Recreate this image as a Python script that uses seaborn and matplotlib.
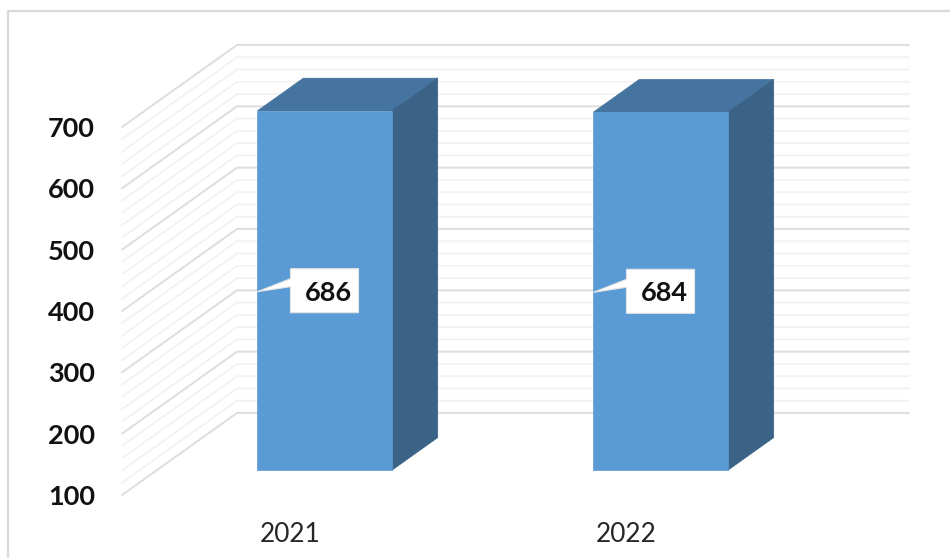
import matplotlib
matplotlib.use("Agg")
import matplotlib.pyplot as plt
import numpy as np
import pandas as pd
import seaborn as sns
from matplotlib.lines import Line2D
from matplotlib.patches import Polygon
from matplotlib.transforms import Affine2D, IdentityTransform

years = ["2021", "2022"]
values = [686, 684]
y_ticks = [100, 200, 300, 400, 500, 600, 700]
y_minor = [120, 140, 160, 180, 220, 240, 260, 280, 320, 340, 360, 380,
           420, 440, 460, 480, 520, 540, 560, 580, 620, 640, 660, 680]

sns.set_theme(style="white")
plt.rcParams["font.family"] = ["Lato", "DejaVu Sans"]

W, H = 950, 558
fig = plt.figure(figsize=(W / 100, H / 100), dpi=100)
# front plane of the fake 3d box, in pixels of the reference
ax = fig.add_axes([122 / W, (H - 495) / H, 672 / W, 368 / H])

df = pd.DataFrame({"year": years, "value": values})
sns.barplot(data=df, x="year", y="value", ax=ax, color="#5B9BD5", width=0.4,
            saturation=1, zorder=3)
ax.set_xlim(-0.5, 1.5)
ax.set_ylim(y_ticks[0], y_ticks[-1])
ax.set_xlabel("")
ax.set_ylabel("")
ax.set_yticks(y_ticks)
ax.tick_params(axis="both", length=0)
ax.tick_params(axis="y", pad=19.5, labelsize=19.5, labelcolor="#111111")
ax.tick_params(axis="x", pad=19.5, labelsize=18.8, labelcolor="#262626")
for lab in ax.get_yticklabels():
    lab.set_fontweight("bold")
sns.despine(ax=ax, left=True, bottom=True)
ax.patch.set_alpha(0)

# depth direction in pixels, 0 = front plane, 1 = back wall
DEPTH = np.array([115, 82])
BAR_FRONT, BAR_BACK = 0.3, 0.7


def px(x, y, depth=0):
    return ax.transData.transform((x, y)) + depth * DEPTH


# grid lines run along the side wall and then along the back wall
for vals, col, lw in [(y_minor, "#f2f2f2", 1.3), (y_ticks, "#dfdfdf", 1.5)]:
    for v in vals:
        pts = np.array([px(-0.5, v), px(-0.5, v, 1), px(1.5, v, 1)])
        ax.plot(pts[:, 0], pts[:, 1], color=col, lw=lw, transform=IdentityTransform(),
                clip_on=False, zorder=1, solid_joinstyle="miter")

shift = Affine2D().translate(*(BAR_FRONT * DEPTH))
for bar, val in zip(ax.patches, values):
    bar.set_y(y_ticks[0])
    bar.set_height(val - y_ticks[0])
    bar.set_transform(ax.transData + shift)
    bar.set_clip_on(False)
    bar.set_edgecolor("#5B9BD5")
    bar.set_linewidth(0.5)
    x0 = bar.get_x()
    x1 = x0 + bar.get_width()
    top = [px(x0, val, BAR_FRONT), px(x1, val, BAR_FRONT), px(x1, val, BAR_BACK), px(x0, val, BAR_BACK)]
    side = [px(x1, y_ticks[0], BAR_FRONT), px(x1, y_ticks[0], BAR_BACK), px(x1, val, BAR_BACK), px(x1, val, BAR_FRONT)]
    ax.add_patch(Polygon(top, closed=True, fc="#44749F", ec="#44749F", lw=0.5, transform=IdentityTransform(), clip_on=False, zorder=2.9))
    ax.add_patch(Polygon(side, closed=True, fc="#3B6387", ec="#3B6387", lw=0.5, transform=IdentityTransform(), clip_on=False, zorder=2.95))

    # data label callout, centred on the front face of the bar
    cx, cy = px((x0 + x1) / 2, (val + y_ticks[0]) / 2, BAR_FRONT)
    tip_x = px(x0, val, BAR_FRONT)[0]
    shape = [(cx - 34, cy + 22), (cx + 34, cy + 22), (cx + 34, cy - 22), (cx - 34, cy - 22),
             (cx - 34, cy + 4), (tip_x, cy - 1), (cx - 34, cy + 12)]
    ax.add_patch(Polygon(shape, closed=True, fc="white", ec="#e4e4e4", lw=0.8,
                         transform=IdentityTransform(), clip_on=False, zorder=4))
    ax.text(cx + 4, cy - 2, str(val), ha="center", va="center", fontsize=19.5, fontweight="bold",
            color="#111111", transform=IdentityTransform(), zorder=5)

# thin frame of the chart area, cut off by the right and bottom edge of the image
frame = "#d9d9d9"
fig.add_artist(Line2D([8 / W, 1], [1 - 11 / H, 1 - 11 / H], color=frame, lw=1.6))
fig.add_artist(Line2D([8 / W, 8 / W], [0, 1 - 11 / H], color=frame, lw=1.6))

fig.savefig("out.png", dpi=100)
